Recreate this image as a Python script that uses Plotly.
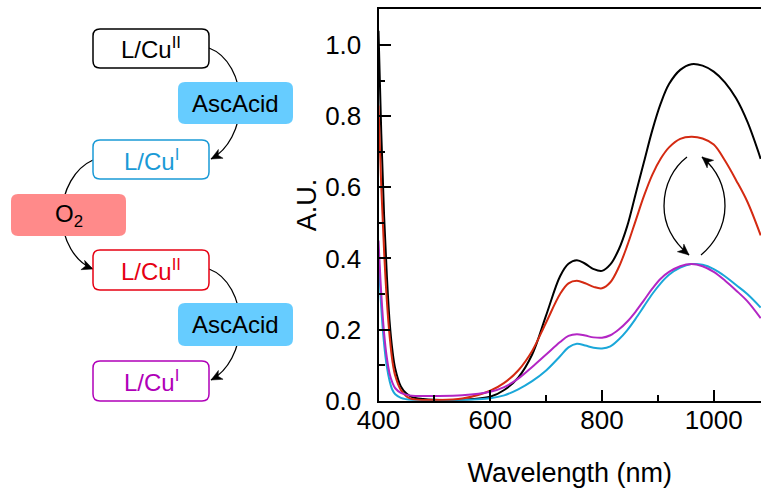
import plotly.graph_objects as go

# ---------------- data ----------------
wavelength = [400, 405, 410, 415, 420, 425, 430, 440, 450, 460, 480, 500, 550, 600, 625, 650, 675,
              700, 725, 740, 755, 770, 785, 800, 815, 830, 845, 860, 875, 890, 905, 920, 940, 960,
              980, 1000, 1020, 1040, 1060, 1084]

cu2_initial = [1.04, 0.75, 0.52, 0.35, 0.22, 0.14, 0.09, 0.04, 0.02, 0.01, 0.005, 0.003, 0.003, 0.011,
               0.03, 0.065, 0.13, 0.24, 0.35, 0.385, 0.395, 0.385, 0.37, 0.365, 0.383, 0.425, 0.49,
               0.58, 0.67, 0.76, 0.835, 0.89, 0.93, 0.946, 0.942, 0.925, 0.895, 0.85, 0.785, 0.68]

cu2_reoxidized = [0.83, 0.60, 0.42, 0.28, 0.18, 0.11, 0.07, 0.03, 0.012, 0.005, 0.002, 0.002, 0.006,
                  0.028, 0.05, 0.085, 0.14, 0.22, 0.30, 0.33, 0.337, 0.33, 0.32, 0.316, 0.333, 0.375,
                  0.435, 0.505, 0.575, 0.635, 0.68, 0.712, 0.736, 0.742, 0.737, 0.72, 0.675, 0.62,
                  0.56, 0.465]

cu1_first = [0.42, 0.26, 0.16, 0.095, 0.055, 0.03, 0.018, 0.008, 0.004, 0.002, 0.002, 0.002, 0.002,
             0.007, 0.015, 0.032, 0.055, 0.085, 0.125, 0.15, 0.16, 0.155, 0.149, 0.147, 0.153, 0.172,
             0.198, 0.230, 0.265, 0.300, 0.330, 0.354, 0.374, 0.384, 0.382, 0.37, 0.35, 0.325, 0.30,
             0.262]

cu1_second = [0.45, 0.30, 0.19, 0.12, 0.075, 0.05, 0.035, 0.022, 0.017, 0.014, 0.013, 0.013, 0.015,
              0.025, 0.038, 0.062, 0.095, 0.13, 0.165, 0.182, 0.187, 0.183, 0.178, 0.177, 0.184,
              0.200, 0.222, 0.250, 0.282, 0.315, 0.343, 0.362, 0.378, 0.384, 0.378, 0.362, 0.338,
              0.31, 0.28, 0.232]

series_names = ["L/Cu(II)", "L/Cu(I) + AscAcid", "L/Cu(II) + O2", "L/Cu(I) + AscAcid (2nd)"]
series_colors = ["#000000", "#1AA7D9", "#D42A12", "#B326C4"]

x_ticks = [400, 600, 800, 1000]
y_ticks = [0.0, 0.2, 0.4, 0.6, 0.8, 1.0]

# ---------------- figure ----------------
W, H = 761, 488
FONT = "Liberation Sans, Arial, Helvetica, sans-serif"

fig = go.Figure()
for vals, name, col in zip([cu2_initial, cu1_first, cu2_reoxidized, cu1_second], series_names, series_colors):
    fig.add_trace(go.Scatter(x=wavelength, y=vals, mode="lines", name=name,
                             line=dict(color=col, width=2, shape="spline", smoothing=1.0)))


def px(x, y):
    return x / W, 1 - y / H


def fmt(pts):
    return " ".join("%.5f,%.5f" % px(*p) for p in pts)


def rounded_rect(x0, y0, x1, y1, r=7):
    p = []
    p.append("M " + fmt([(x0 + r, y0)]))
    p.append("L " + fmt([(x1 - r, y0)]))
    p.append("Q " + fmt([(x1, y0), (x1, y0 + r)]))
    p.append("L " + fmt([(x1, y1 - r)]))
    p.append("Q " + fmt([(x1, y1), (x1 - r, y1)]))
    p.append("L " + fmt([(x0 + r, y1)]))
    p.append("Q " + fmt([(x0, y1), (x0, y1 - r)]))
    p.append("L " + fmt([(x0, y0 + r)]))
    p.append("Q " + fmt([(x0, y0), (x0 + r, y0)]))
    p.append("Z")
    return " ".join(p)


def curve(p0, c1, c2, m, c3, c4, p1):
    return "M " + fmt([p0]) + " C " + fmt([c1, c2, m]) + " C " + fmt([c3, c4, p1])


def arrowhead(tip, frm, L=11, w=5, notch=3):
    dx, dy = tip[0] - frm[0], tip[1] - frm[1]
    n = (dx * dx + dy * dy) ** 0.5
    dx, dy = dx / n, dy / n
    nx, ny = -dy, dx
    t = tip
    a = (t[0] - L * dx + w * nx, t[1] - L * dy + w * ny)
    b = (t[0] - (L - notch) * dx, t[1] - (L - notch) * dy)
    c = (t[0] - L * dx - w * nx, t[1] - L * dy - w * ny)
    return "M " + fmt([t]) + " L " + fmt([a]) + " L " + fmt([b]) + " L " + fmt([c]) + " Z"


shapes = []
line_style = dict(color="black", width=1.3)

# scheme arcs (drawn first so boxes sit on top)
arcs = [
    ((209, 48), (228, 55), (240, 78), (240, 103), (240, 128), (228, 150), (211, 159)),
    ((93, 160), (75, 168), (62, 190), (62, 215), (62, 240), (75, 262), (93, 269)),
    ((209, 269), (228, 276), (240, 299), (240, 324), (240, 349), (228, 371), (211, 380)),
    ((687, 157), (674, 167), (664, 184), (664, 206), (664, 228), (676, 244), (689, 255)),
    ((701, 255), (713, 245), (725, 228), (725, 206), (725, 184), (715, 168), (702, 157)),
]
for a in arcs:
    shapes.append(dict(type="path", path=curve(*a), xref="paper", yref="paper",
                       line=line_style, layer="above"))
    shapes.append(dict(type="path", path=arrowhead(a[6], a[5]), xref="paper", yref="paper",
                       fillcolor="black", line=dict(color="black", width=0.5), layer="above"))

boxes = [
    # x0, y0, x1, y1, border, fill, text, text colour
    (93, 29, 209, 68, "#000000", "white", "L/Cu<sup>II</sup>", "#000000"),
    (178, 82, 293, 124, "rgba(0,0,0,0)", "#66CCFF", "AscAcid", "#000000"),
    (93, 140, 209, 179, "#1A9AD6", "white", "L/Cu<sup>I</sup>", "#1A9AD6"),
    (11, 194, 126, 236, "rgba(0,0,0,0)", "#FF8A8A", "O<sub>2</sub>", "#000000"),
    (93, 250, 209, 290, "#E60012", "white", "L/Cu<sup>II</sup>", "#E60012"),
    (178, 303, 293, 346, "rgba(0,0,0,0)", "#66CCFF", "AscAcid", "#000000"),
    (93, 361, 209, 401, "#B000B8", "white", "L/Cu<sup>I</sup>", "#B000B8"),
]
annotations = []
for x0, y0, x1, y1, bc, fc, txt, tc in boxes:
    shapes.append(dict(type="path", path=rounded_rect(x0, y0, x1, y1), xref="paper", yref="paper",
                       fillcolor=fc, line=dict(color=bc, width=1.5), layer="above"))
    cx, cy = px((x0 + x1) / 2, (y0 + y1) / 2)
    annotations.append(dict(x=cx, y=cy, xref="paper", yref="paper", text=txt, showarrow=False,
                            font=dict(family=FONT, size=24, color=tc), xanchor="center",
                            yanchor="middle"))

x_dom0 = 378.5 / W
y_dom0 = 1 - 400.7 / H
y_dom1 = 1 - 9.4 / H

fig.update_layout(
    width=W, height=H,
    margin=dict(l=0, r=0, t=0, b=0, pad=0),
    paper_bgcolor="white", plot_bgcolor="white",
    showlegend=False,
    shapes=shapes,
    annotations=annotations,
    font=dict(family=FONT, size=26, color="black"),
    xaxis=dict(domain=[x_dom0, 1.0], range=[400, 1084.6], tickvals=x_ticks,
               ticks="inside", ticklen=11, tickwidth=1.6, tickcolor="black",
               minor=dict(dtick=100, tick0=400, ticks="inside", ticklen=6, tickwidth=1.6,
                          tickcolor="black"),
               showline=True, linecolor="black", linewidth=2, mirror=True,
               showgrid=False, zeroline=False, automargin=False,
               tickfont=dict(size=26), ticklabelstandoff=-5,
               title=dict(text="Wavelength (nm)", font=dict(size=27), standoff=30)),
    yaxis=dict(domain=[y_dom0, y_dom1], range=[0, 1.1], tickvals=y_ticks, tickformat=".1f",
               ticks="inside", ticklen=12, tickwidth=1.6, tickcolor="black",
               minor=dict(dtick=0.1, tick0=0, ticks="inside", ticklen=6, tickwidth=1.6,
                          tickcolor="black"),
               showline=True, linecolor="black", linewidth=2, mirror=False,
               showgrid=False, zeroline=False, automargin=False,
               tickfont=dict(size=26), ticklabelstandoff=10,
               title=dict(text="A.U.", font=dict(size=27), standoff=1)),
)

fig.write_html("out.html")
